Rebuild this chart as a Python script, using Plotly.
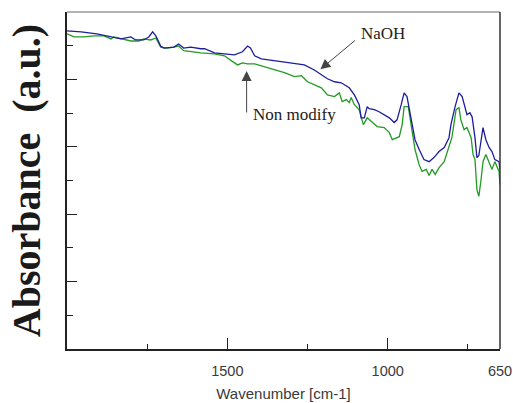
import plotly.graph_objects as go

# Wavenumber (cm-1) and absorbance (a.u.)
naoh_wn = [2000, 1956, 1907, 1876, 1854, 1832, 1801, 1786, 1761, 1745, 1733, 1723, 1708, 1698,
           1667, 1652, 1636, 1614, 1583, 1571, 1540, 1509, 1478, 1453, 1437, 1428, 1415, 1394,
           1353, 1322, 1291, 1260, 1229, 1207, 1188, 1166, 1145, 1120, 1104, 1089, 1083, 1073,
           1064, 1058, 1042, 1027, 1011, 995, 980, 971, 958, 949, 940, 933, 924, 915, 902, 887,
           871, 856, 840, 824, 809, 803, 790, 778, 768, 759, 753, 744, 737, 728, 722, 716, 703,
           694, 684, 675, 666, 653, 650]
naoh_abs = [0.944, 0.941, 0.935, 0.929, 0.923, 0.920, 0.926, 0.917, 0.917, 0.926, 0.941, 0.929,
            0.899, 0.893, 0.896, 0.905, 0.893, 0.896, 0.891, 0.891, 0.879, 0.876, 0.873, 0.882,
            0.899, 0.893, 0.870, 0.861, 0.855, 0.852, 0.846, 0.843, 0.828, 0.814, 0.802, 0.793,
            0.790, 0.775, 0.754, 0.725, 0.686, 0.686, 0.719, 0.713, 0.710, 0.704, 0.695, 0.686,
            0.672, 0.680, 0.725, 0.760, 0.749, 0.710, 0.666, 0.621, 0.592, 0.562, 0.556, 0.568,
            0.586, 0.598, 0.627, 0.666, 0.719, 0.760, 0.749, 0.716, 0.695, 0.701, 0.689, 0.627,
            0.568, 0.574, 0.657, 0.621, 0.598, 0.586, 0.562, 0.556, 0.533]

nonmod_wn = [2000, 1978, 1947, 1916, 1885, 1863, 1854, 1823, 1801, 1776, 1761, 1739, 1723, 1708,
             1689, 1667, 1652, 1636, 1611, 1583, 1540, 1509, 1487, 1468, 1453, 1437, 1415, 1394,
             1362, 1344, 1322, 1291, 1269, 1250, 1229, 1207, 1188, 1166, 1151, 1142, 1129, 1120,
             1114, 1104, 1089, 1076, 1064, 1051, 1033, 1011, 995, 986, 974, 964, 955, 949, 936,
             927, 915, 902, 893, 880, 871, 862, 852, 840, 824, 809, 800, 787, 778, 772, 762, 753,
             740, 734, 728, 722, 716, 709, 703, 694, 684, 675, 666, 653, 650]
nonmod_abs = [0.935, 0.926, 0.926, 0.929, 0.929, 0.920, 0.926, 0.920, 0.914, 0.914, 0.920, 0.917,
              0.923, 0.896, 0.893, 0.896, 0.899, 0.885, 0.882, 0.879, 0.876, 0.870, 0.855, 0.843,
              0.849, 0.846, 0.846, 0.840, 0.831, 0.825, 0.820, 0.808, 0.811, 0.793, 0.784, 0.775,
              0.754, 0.749, 0.760, 0.734, 0.740, 0.731, 0.746, 0.725, 0.710, 0.666, 0.686, 0.675,
              0.660, 0.657, 0.642, 0.621, 0.627, 0.630, 0.666, 0.719, 0.719, 0.666, 0.592, 0.547,
              0.527, 0.533, 0.515, 0.533, 0.518, 0.538, 0.556, 0.601, 0.627, 0.710, 0.716, 0.680,
              0.651, 0.657, 0.627, 0.577, 0.562, 0.473, 0.453, 0.503, 0.556, 0.577, 0.556, 0.533,
              0.556, 0.527, 0.488]

x_tick_vals = [1500, 1000, 650]
x_tick_text = ["1500", "1000", "650"]
x_minor_vals = [1750, 1250, 750]
y_major_vals = [0.2, 0.4, 0.6, 0.8]
y_minor_vals = [0.1, 0.3, 0.5, 0.7, 0.9]

sans = "Liberation Sans, Arial, sans-serif"
serif = "Liberation Serif, Times New Roman, serif"

fig = go.Figure()
fig.add_trace(go.Scatter(x=nonmod_wn, y=nonmod_abs, mode="lines", name="Non modify",
                         line=dict(color="#239b23", width=1.3)))
fig.add_trace(go.Scatter(x=naoh_wn, y=naoh_abs, mode="lines", name="NaOH",
                         line=dict(color="#1e1e9c", width=1.3)))

fig.update_layout(
    width=513, height=403,
    margin=dict(l=67, r=13, t=12, b=54),
    paper_bgcolor="white", plot_bgcolor="white",
    showlegend=False,
    xaxis=dict(
        range=[2000, 650], autorange=False,
        showgrid=False, zeroline=False,
        showline=True, linecolor="#222", linewidth=1.5,
        ticks="inside", ticklen=11, tickwidth=1, tickcolor="#222",
        tickvals=x_tick_vals, ticktext=x_tick_text,
        ticklabelstandoff=8, ticklabeloverflow="allow",
        tickfont=dict(family=sans, size=14.5, color="#3a3a3a"),
        minor=dict(tickvals=x_minor_vals, ticks="inside", ticklen=5, tickcolor="#222"),
        title=dict(text="Wavenumber [cm-1]", standoff=10,
                   font=dict(family=sans, size=15, color="#3a3a3a")),
        automargin=False,
    ),
    yaxis=dict(
        range=[0, 1], autorange=False,
        showgrid=False, zeroline=False,
        showline=True, linecolor="#222", linewidth=1.5,
        ticks="inside", ticklen=10, tickwidth=1, tickcolor="#222",
        tickvals=y_major_vals, showticklabels=False,
        minor=dict(tickvals=y_minor_vals, ticks="inside", ticklen=6, tickcolor="#222"),
        title=dict(text="<b>Absorbance  (a.u.)</b>", standoff=12,
                   font=dict(family=serif, size=40, color="#1a1a1a")),
        automargin=False,
    ),
    shapes=[
        dict(type="line", xref="paper", yref="paper", x0=0, x1=1, y0=1, y1=1,
             line=dict(color="#666", width=1)),
        dict(type="line", xref="paper", yref="paper", x0=1, x1=1, y0=0, y1=1,
             line=dict(color="#333", width=1.5)),
    ],
    annotations=[
        dict(x=1210, y=0.83, xref="x", yref="y", text="", showarrow=True,
             ax=36, ay=-30, axref="pixel", ayref="pixel",
             arrowhead=2, arrowsize=2, arrowwidth=1, arrowcolor="#444"),
        dict(x=1440, y=0.825, xref="x", yref="y", text="", showarrow=True,
             ax=0, ay=43, axref="pixel", ayref="pixel",
             arrowhead=2, arrowsize=2, arrowwidth=1, arrowcolor="#444"),
        dict(x=1016, y=0.935, xref="x", yref="y", text="NaOH", showarrow=False,
             font=dict(family=serif, size=17, color="#222")),
        dict(x=1290, y=0.697, xref="x", yref="y", text="Non modify", showarrow=False,
             font=dict(family=serif, size=17, color="#222")),
    ],
)

fig.write_html("out.html")
